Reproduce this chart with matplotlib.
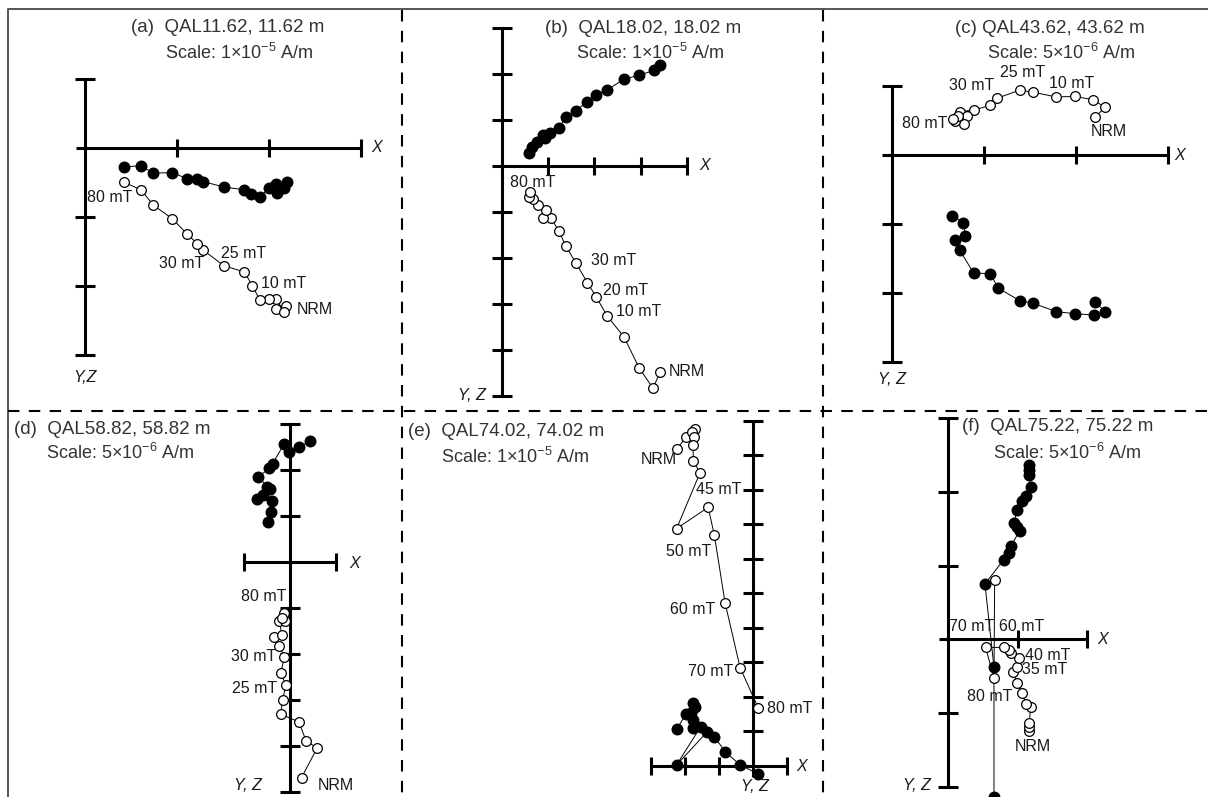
import matplotlib
matplotlib.use('Agg')
import matplotlib.pyplot as plt

plt.rcParams['font.family'] = ['Liberation Sans', 'DejaVu Sans']
plt.rcParams['mathtext.fontset'] = 'custom'
plt.rcParams['mathtext.rm'] = 'Liberation Sans'
plt.rcParams['mathtext.it'] = 'Liberation Sans:italic'

W, H = 1208, 797

# values in units of one scale step (tick spacing), first point = NRM
a_hor_x = [2.20, 2.16, 2.09, 2.08, 2.00, 1.90, 1.80, 1.73, 1.51, 1.28, 1.22, 1.11, 0.95, 0.74, 0.61, 0.42]
a_hor_y = [-0.49, -0.59, -0.65, -0.53, -0.59, -0.71, -0.67, -0.61, -0.57, -0.49, -0.46, -0.45, -0.36, -0.37, -0.26, -0.28]
a_ver_x = [2.15, 2.19, 2.08, 2.16, 2.08, 2.00, 1.90, 1.82, 1.73, 1.51, 1.28, 1.22, 1.11, 0.95, 0.74, 0.61, 0.42]
a_ver_y = [-2.35, -2.30, -2.34, -2.38, -2.19, -2.19, -2.21, -2.00, -1.80, -1.71, -1.48, -1.39, -1.25, -1.03, -0.83, -0.61, -0.50]

b_hor_x = [3.42, 3.29, 2.97, 2.64, 2.28, 2.04, 1.85, 1.60, 1.38, 1.24, 1.04, 0.94, 0.89, 0.76, 0.66, 0.60]
b_hor_y = [2.19, 2.07, 1.97, 1.88, 1.65, 1.54, 1.39, 1.20, 1.05, 0.83, 0.72, 0.60, 0.67, 0.52, 0.41, 0.27]
b_ver_x = [3.42, 3.27, 2.97, 2.64, 2.28, 2.04, 1.85, 1.60, 1.38, 1.24, 1.06, 0.90, 0.96, 0.79, 0.67, 0.60, 0.61]
b_ver_y = [-4.48, -4.84, -4.40, -3.72, -3.27, -2.85, -2.54, -2.11, -1.74, -1.43, -1.13, -1.13, -0.96, -0.85, -0.73, -0.67, -0.57]

c_hor_x = [2.21, 2.32, 2.20, 1.99, 1.79, 1.54, 1.39, 1.16, 1.07, 0.89, 0.74, 0.69, 0.80, 0.78, 0.66]
c_hor_y = [-2.13, -2.27, -2.32, -2.30, -2.27, -2.15, -2.11, -1.93, -1.72, -1.71, -1.38, -1.23, -1.18, -0.98, -0.88]
c_ver_x = [2.21, 2.32, 2.19, 1.99, 1.79, 1.54, 1.39, 1.14, 1.07, 0.89, 0.74, 0.82, 0.79, 0.69, 0.72, 0.67]
c_ver_y = [0.55, 0.69, 0.80, 0.85, 0.84, 0.91, 0.94, 0.82, 0.72, 0.65, 0.63, 0.56, 0.45, 0.50, 0.56, 0.52]

d_hor_x = [0.43, 0.20, -0.03, -0.13, -0.38, -0.45, -0.69, -0.49, -0.43, -0.58, -0.71, -0.40, -0.42, -0.47]
d_hor_y = [2.64, 2.50, 2.39, 2.57, 2.14, 2.04, 1.86, 1.64, 1.59, 1.46, 1.38, 1.33, 1.10, 0.87]
d_ver_x = [0.25, 0.59, 0.35, 0.19, -0.20, -0.16, -0.09, -0.20, -0.12, -0.25, -0.35, -0.18, -0.23, -0.11, -0.14, -0.18]
d_ver_y = [-4.68, -4.04, -3.88, -3.47, -3.30, -2.99, -2.67, -2.40, -2.05, -1.81, -1.63, -1.57, -1.27, -1.27, -1.11, -1.22]

e_hor_x = [-2.24, -1.96, -1.76, -1.70, -1.82, -1.76, -1.76, -1.53, -2.24, -1.33, -1.13, -0.81, -0.37, 0.17]
e_hor_y = [1.05, 1.50, 1.83, 1.71, 1.52, 1.32, 1.08, 1.13, 0.02, 0.99, 0.84, 0.41, 0.02, -0.24]
e_ver_x = [-2.24, -1.96, -1.70, -1.79, -1.73, -1.75, -1.75, -1.55, -2.24, -1.31, -1.13, -0.81, -0.37, 0.17]
e_ver_y = [9.17, 9.52, 9.75, 9.66, 9.54, 9.30, 8.84, 8.49, 6.87, 7.49, 6.69, 4.71, 2.84, 1.66]

f_hor_x = [1.16, 1.16, 1.17, 1.19, 1.12, 1.07, 0.99, 0.95, 0.99, 1.03, 0.90, 0.87, 0.80, 0.53, 0.66, 0.66]
f_hor_y = [2.36, 2.30, 2.23, 2.07, 1.94, 1.88, 1.75, 1.58, 1.53, 1.47, 1.26, 1.17, 1.08, 0.75, -0.38, -2.14]
f_ver_x = [1.16, 1.16, 1.17, 1.19, 1.12, 1.07, 0.99, 0.94, 0.99, 1.02, 0.90, 0.88, 0.81, 0.54, 0.66, 0.67]
f_ver_y = [-1.25, -1.19, -1.13, -0.92, -0.88, -0.73, -0.59, -0.45, -0.37, -0.25, -0.18, -0.15, -0.11, -0.11, -0.53, 0.80]

titles = ['(a)  QAL11.62, 11.62 m', '(b)  QAL18.02, 18.02 m', '(c) QAL43.62, 43.62 m',
          '(d)  QAL58.82, 58.82 m', '(e)  QAL74.02, 74.02 m', '(f)  QAL75.22, 75.22 m']
scales = ['1\u00d710$^{-5}$', '1\u00d710$^{-5}$', '5\u00d710$^{-6}$',
          '5\u00d710$^{-6}$', '1\u00d710$^{-5}$', '5\u00d710$^{-6}$']

fig = plt.figure(figsize=(W / 100, H / 100), dpi=100)
px = fig.dpi_scale_trans


def put(s, x, y, size=11.5, ha='center', style='normal', color='#1a1a1a'):
    fig.text(x / 100, (H - y) / 100, s, transform=px, fontsize=size, ha=ha, va='center',
             style=style, color=color)


# frame and dashed dividers
bg = fig.add_axes([0, 0, 1, 1])
bg.set_xlim(0, W)
bg.set_ylim(H, 0)
bg.axis('off')
bg.plot([7.5, 7.5, W], [H, 9, 9], color='#555555', lw=1.4, solid_capstyle='butt')
for xd in [401.7, 822.7]:
    bg.plot([xd, xd], [10, H], color='black', lw=1.5, dashes=(5.5, 4.5))
bg.plot([7.5, W], [410.7, 410.7], color='black', lw=1.5, dashes=(5.5, 4.5))


def zij(ox, oy, sx, sy, xr, yr, xt, yt, hx, hy, vx, vy):
    ax = fig.add_axes([0, 0, 1, 1])
    ax.set_xlim(-ox / sx, (W - ox) / sx)
    ax.set_ylim((oy - H) / sy, oy / sy)
    ax.patch.set_alpha(0)
    ax.axis('off')
    # cross-shaped axes with tick marks
    ax.plot(xr, [0, 0], color='black', lw=2.2, solid_capstyle='butt', zorder=1)
    ax.plot([0, 0], yr, color='black', lw=2.2, solid_capstyle='butt', zorder=1)
    ax.plot(xt, [0] * len(xt), ls='none', marker='|', ms=13.5, mew=2.2, color='black', zorder=1)
    ax.plot([0] * len(yt), yt, ls='none', marker='_', ms=14, mew=2.2, color='black', zorder=1)
    # horizontal projection (solid) and vertical projection (open)
    ax.plot(hx, hy, color='black', lw=0.7, marker='o', ms=7.6, mfc='black', mec='black', zorder=3)
    ax.plot(vx, vy, color='black', lw=0.7, marker='o', ms=7, mfc='white', mec='black', mew=0.9, zorder=3)
    return ax


zij(85, 147.7, 92, 69, [-0.1, 3], [-3, 1], [1, 2, 3], [1, -1, -2, -3],
    a_hor_x, a_hor_y, a_ver_x, a_ver_y)
zij(501.7, 165.7, 46.3, 46, [-0.2, 4], [-5, 3], [1, 2, 3, 4], [3, 2, 1, -1, -2, -3, -4, -5],
    b_hor_x, b_hor_y, b_ver_x, b_ver_y)
zij(891.7, 155, 92, 69, [-0.1, 3], [-3, 1], [1, 2, 3], [1, -1, -2, -3],
    c_hor_x, c_hor_y, c_ver_x, c_ver_y)
zij(290, 562.3, 46, 46, [-1, 1], [-5, 3], [-1, 1], [3, 2, 1, -1, -2, -3, -4, -5],
    d_hor_x, d_hor_y, d_ver_x, d_ver_y)
zij(752.7, 765.7, 34, 34.5, [-3, 1], [-0.32, 10], [-3, -2, -1, 1], list(range(1, 11)),
    e_hor_x, e_hor_y, e_ver_x, e_ver_y)
zij(948.3, 639.3, 69.2, 73.7, [-0.13, 2], [-2, 3], [1, 2], [3, 2, 1, -1, -2],
    f_hor_x, f_hor_y, f_ver_x, f_ver_y)

# titles
tc = '#333333'
put(titles[0], 228, 28, 13.5, color=tc)
put('Scale: ' + scales[0] + ' A/m', 239, 53, 13, color=tc)
put(titles[1], 643.3, 28.3, 13.5, color=tc)
put('Scale: ' + scales[1] + ' A/m', 650.7, 53.3, 13, color=tc)
put(titles[2], 1050, 28.3, 13.5, color=tc)
put('Scale: ' + scales[2] + ' A/m', 1061.7, 53.3, 13, color=tc)
put(titles[3], 14, 429.3, 13.5, ha='left', color=tc)
put('Scale: ' + scales[3] + ' A/m', 46, 453.3, 13, ha='left', color=tc)
put(titles[4], 408.5, 431.7, 13.5, ha='left', color=tc)
put('Scale: ' + scales[4] + ' A/m', 440.7, 456.7, 13, ha='left', color=tc)
put(titles[5], 962, 426.7, 13.5, ha='left', color=tc)
put('Scale: ' + scales[5] + ' A/m', 1067.3, 453.3, 13, color=tc)

# step labels and axis names
for s, x, y in [('80 mT', 110, 198), ('30 mT', 182, 263), ('25 mT', 244, 253),
                ('10 mT', 284, 284), ('NRM', 315, 310),
                ('80 mT', 532.3, 182.7), ('30 mT', 613.3, 260.7), ('20 mT', 626, 290.7),
                ('10 mT', 638.3, 311.7), ('NRM', 686.7, 371),
                ('30 mT', 971.7, 85), ('25 mT', 1022.7, 72.7), ('10 mT', 1071.7, 83.3),
                ('80 mT', 925, 124), ('NRM', 1109.3, 131),
                ('80 mT', 263.3, 596.7), ('30 mT', 253.3, 656.7), ('25 mT', 255, 688.3),
                ('NRM', 336, 785),
                ('NRM', 659.3, 460), ('45 mT', 718.3, 490), ('50 mT', 688.3, 551.7),
                ('60 mT', 692.7, 609.3), ('70 mT', 710.7, 671.7), ('80 mT', 789.3, 708.3),
                ('70 mT', 971.7, 626.7), ('60 mT', 1021.7, 626.7), ('40 mT', 1047.3, 656),
                ('35 mT', 1045, 669.3), ('80 mT', 990, 696.7), ('NRM', 1033.3, 746.7)]:
    put(s, x, y)

for s, x, y in [('X', 377, 148), ('Y,Z', 85, 378),
                ('X', 705, 165.7), ('Y, Z', 471.7, 395),
                ('X', 1180, 155), ('Y, Z', 891.7, 380),
                ('X', 355, 563.3), ('Y, Z', 248.3, 785),
                ('X', 801.7, 766.7), ('Y, Z', 755, 786.7),
                ('X', 1102.7, 639.3), ('Y, Z', 916.7, 786)]:
    put(s, x, y, style='italic')

fig.savefig('out.png', dpi=100)
